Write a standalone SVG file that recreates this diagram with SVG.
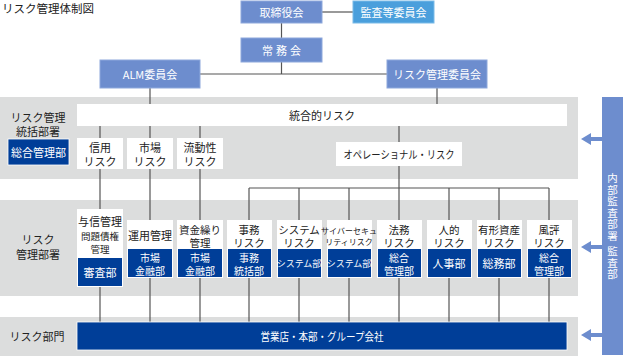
<svg xmlns="http://www.w3.org/2000/svg" width="624" height="356" viewBox="0 0 624 356">
<style>
text{font-family:"Noto Sans CJK JP","Noto Sans",sans-serif;text-anchor:middle;dominant-baseline:central;fill:#222;font-size:11px}
.s{font-size:10.5px}
.b{font-size:10px}
.top{fill:#6d8dce;stroke:#8ea8dc;stroke-width:1}
.aud{fill:#4a9fdc;stroke:#7bbbe8;stroke-width:1}
.wt{fill:#fff}
.band{fill:#dcdddd}
.blue{fill:#003e98}
.w{fill:#fff}
.con line{stroke:#555;stroke-width:1.2}
.arr{fill:#6d8dce}
.vt{writing-mode:vertical-rl;text-orientation:upright;text-anchor:start;letter-spacing:1px;font-size:10.5px;fill:#fff}
</style>
<text x="2" y="8" style="text-anchor:start;font-size:11.5px">リスク管理体制図</text>
<rect class="band" x="0" y="97" width="578" height="82"/>
<rect class="band" x="0" y="200" width="578" height="96"/>
<rect class="band" x="0" y="317" width="578" height="39"/>
<g class="con">
<line x1="281.5" y1="23" x2="281.5" y2="38"/>
<line x1="322" y1="12" x2="353" y2="12"/>
<line x1="281.5" y1="62" x2="281.5" y2="74"/>
<line x1="200" y1="74" x2="387" y2="74"/>
<line x1="150" y1="88" x2="150" y2="104"/>
<line x1="437" y1="88" x2="437" y2="104"/>
<line x1="100" y1="126" x2="100" y2="138"/>
<line x1="150" y1="126" x2="150" y2="138"/>
<line x1="200" y1="126" x2="200" y2="138"/>
<line x1="399" y1="126" x2="399" y2="142"/>
<line x1="399" y1="166" x2="399" y2="220"/>
<line x1="249" y1="188" x2="549" y2="188"/>
<line x1="249" y1="188" x2="249" y2="220"/>
<line x1="299" y1="188" x2="299" y2="220"/>
<line x1="349" y1="188" x2="349" y2="220"/>
<line x1="449" y1="188" x2="449" y2="220"/>
<line x1="499" y1="188" x2="499" y2="220"/>
<line x1="549" y1="188" x2="549" y2="220"/>
<line x1="100" y1="169" x2="100" y2="209"/>
<line x1="150" y1="169" x2="150" y2="220"/>
<line x1="200" y1="169" x2="200" y2="220"/>
<line x1="100" y1="287" x2="100" y2="322"/>
<line x1="150" y1="278" x2="150" y2="322"/>
<line x1="200" y1="278" x2="200" y2="322"/>
<line x1="249" y1="278" x2="249" y2="322"/>
<line x1="299" y1="278" x2="299" y2="322"/>
<line x1="349" y1="278" x2="349" y2="322"/>
<line x1="399" y1="278" x2="399" y2="322"/>
<line x1="449" y1="278" x2="449" y2="322"/>
<line x1="499" y1="278" x2="499" y2="322"/>
<line x1="549" y1="278" x2="549" y2="322"/>
</g>
<g id="torishimariyakukai"><rect class="top" x="241" y="1" width="81" height="22"/><text class="wt" x="281.5" y="12">取締役会</text></g>
<g id="kansatou"><rect class="aud" x="353" y="1" width="81" height="22"/><text class="wt" x="393.5" y="12">監査等委員会</text></g>
<g id="joumukai"><rect class="top" x="241" y="38" width="81" height="24"/><text class="wt" x="281.5" y="50" textLength="39" lengthAdjust="spacing">常務会</text></g>
<g id="alm"><rect class="top" x="100" y="60" width="100" height="28"/><text class="wt" x="150" y="74">ALM委員会</text></g>
<g id="riskcom"><rect class="top" x="387" y="60" width="100" height="28"/><text class="wt" x="437" y="74">リスク管理委員会</text></g>
<g id="label1"><text><tspan x="38" y="117">リスク管理</tspan><tspan x="38" y="131">統括部署</tspan></text></g>
<g id="sougou"><rect class="blue" x="8" y="139" width="61" height="26" stroke="#fff" stroke-width="0.8"/><text class="wt" x="38.5" y="152">総合管理部</text></g>
<g id="tougou"><rect class="w" x="77" y="104" width="490" height="22"/><text x="322" y="115">統合的リスク</text></g>
<g id="shinyou"><rect class="w" x="77" y="138" width="46" height="31"/><text><tspan x="100" y="147">信用</tspan><tspan x="100" y="161">リスク</tspan></text></g>
<g id="shijou"><rect class="w" x="127" y="138" width="46" height="31"/><text><tspan x="150" y="147">市場</tspan><tspan x="150" y="161">リスク</tspan></text></g>
<g id="ryuudou"><rect class="w" x="177" y="138" width="46" height="31"/><text><tspan x="200" y="147">流動性</tspan><tspan x="200" y="161">リスク</tspan></text></g>
<g id="operational"><rect class="w" x="336" y="142" width="126" height="24"/><text x="399" y="154" textLength="111" lengthAdjust="spacingAndGlyphs">オペレーショナル・リスク</text></g>
<g id="label2"><text><tspan x="38" y="239">リスク</tspan><tspan x="38" y="254">管理部署</tspan></text></g>
<g id="yoshin"><rect class="w" x="77" y="209" width="46" height="78"/><rect class="blue" x="78" y="258" width="44" height="28"/><text x="100" y="220.5">与信管理</text><text style="font-size:9.5px"><tspan x="100" y="236">問題債権</tspan><tspan x="100" y="248.5">管理</tspan></text><text class="wt" x="100" y="272">審査部</text></g>
<g id="unyou"><rect class="w" x="127" y="220" width="46" height="58"/><rect class="blue" x="128" y="249" width="44" height="28"/><text x="150" y="235">運用管理</text><text class="wt b"><tspan x="150" y="257">市場</tspan><tspan x="150" y="269.5">金融部</tspan></text></g>
<g id="shikin"><rect class="w" x="177" y="220" width="46" height="58"/><rect class="blue" x="178" y="249" width="44" height="28"/><text class="s"><tspan x="200" y="228.5">資金繰り</tspan><tspan x="200" y="241.5">管理</tspan></text><text class="wt b"><tspan x="200" y="257">市場</tspan><tspan x="200" y="269.5">金融部</tspan></text></g>
<g id="jimu"><rect class="w" x="227" y="220" width="45" height="58"/><rect class="blue" x="228" y="249" width="43" height="28"/><text class="s"><tspan x="249" y="229">事務</tspan><tspan x="249" y="242">リスク</tspan></text><text class="wt b"><tspan x="249" y="257">事務</tspan><tspan x="249" y="269.5">統括部</tspan></text></g>
<g id="system"><rect class="w" x="277" y="220" width="45" height="58"/><rect class="blue" x="278" y="249" width="43" height="28"/><text class="s"><tspan x="299" y="229">システム</tspan><tspan x="299" y="242">リスク</tspan></text><text class="wt" x="299" y="263" style="font-size:9px">システム部</text></g>
<g id="cyber"><rect class="w" x="327" y="220" width="45" height="58"/><rect class="blue" x="328" y="249" width="43" height="28"/><text style="font-size:8px"><tspan x="349" y="230">サイバーセキュ</tspan><tspan x="349" y="241">リティリスク</tspan></text><text class="wt" x="349" y="263" style="font-size:9px">システム部</text></g>
<g id="houmu"><rect class="w" x="377" y="220" width="45" height="58"/><rect class="blue" x="378" y="249" width="43" height="28"/><text class="s"><tspan x="399" y="229">法務</tspan><tspan x="399" y="242">リスク</tspan></text><text class="wt b"><tspan x="399" y="257">総合</tspan><tspan x="399" y="269.5">管理部</tspan></text></g>
<g id="jinteki"><rect class="w" x="427" y="220" width="45" height="58"/><rect class="blue" x="428" y="249" width="43" height="28"/><text class="s"><tspan x="449" y="229">人的</tspan><tspan x="449" y="242">リスク</tspan></text><text class="wt" x="449" y="263">人事部</text></g>
<g id="yuukei"><rect class="w" x="477" y="220" width="45" height="58"/><rect class="blue" x="478" y="249" width="43" height="28"/><text class="s"><tspan x="499" y="229">有形資産</tspan><tspan x="499" y="242">リスク</tspan></text><text class="wt" x="499" y="263">総務部</text></g>
<g id="fuuhyou"><rect class="w" x="527" y="220" width="45" height="58"/><rect class="blue" x="528" y="249" width="43" height="28"/><text class="s"><tspan x="549" y="229">風評</tspan><tspan x="549" y="242">リスク</tspan></text><text class="wt b"><tspan x="549" y="257">総合</tspan><tspan x="549" y="269.5">管理部</tspan></text></g>
<g id="label3"><text x="37" y="336">リスク部門</text></g>
<g id="eigyou"><rect class="blue" x="77" y="322" width="490" height="28" stroke="#fff" stroke-width="0.8"/><text class="wt" x="322" y="336" textLength="123" lengthAdjust="spacingAndGlyphs">営業店・本部・グループ会社</text></g>
<g id="audit"><rect class="arr" x="602" y="97" width="21" height="258"/>
<text class="vt" x="612.5" y="173">内部監査部署</text>
<text class="vt" x="612.5" y="246">監査部</text>
<polygon class="arr" points="581,139 591,133 591,137 603,137 603,141 591,141 591,145"/>
<polygon class="arr" points="581,247 591,241 591,245 603,245 603,249 591,249 591,253"/>
<polygon class="arr" points="581,335 591,329 591,333 603,333 603,337 591,337 591,341"/>
</g>
</svg>
